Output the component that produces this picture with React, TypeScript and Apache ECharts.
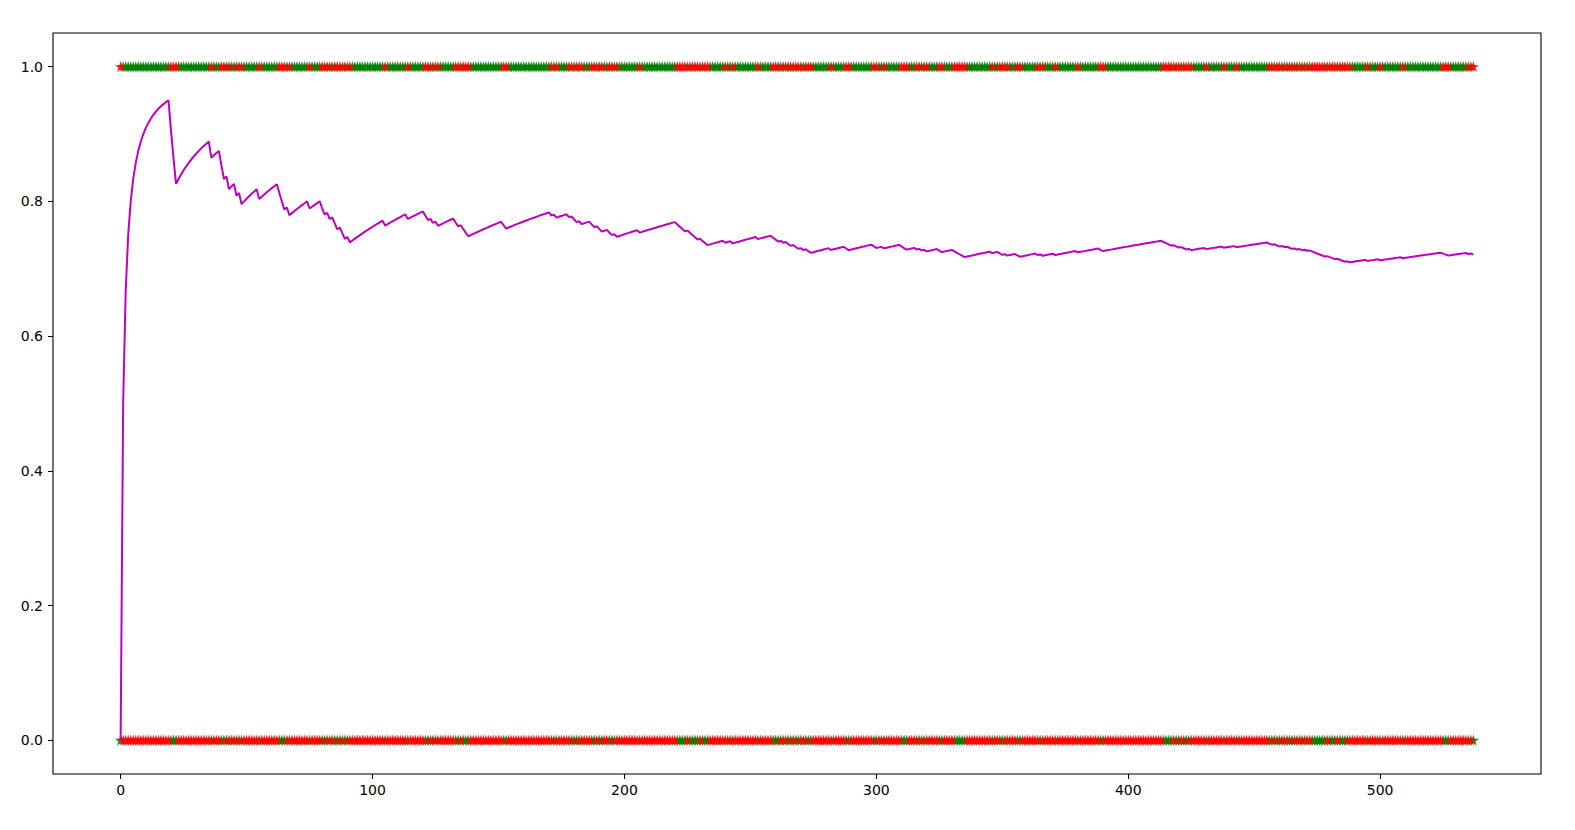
import React, { useEffect, useRef } from "react";
import * as echarts from "echarts";

// number of observations (x = 0 .. 537)
const N_POINTS = 538;

// indices whose value is 0 (read from the red stars on the top row / drops of the line)
const zeroIndices = [
  0, 20, 21, 22, 36, 40, 41, 43, 46, 48, 55, 63, 64, 65, 67, 75,
  80, 81, 83, 85, 86, 88, 89, 91, 105, 114, 121, 122, 124, 126,
  133, 134, 136, 137, 138, 152, 153, 171, 173, 178, 180, 181, 183,
  187, 188, 190, 191, 194, 195, 197, 206,
  221, 222, 223, 224, 226, 227, 228, 229, 231, 232, 233,
  240, 243, 253,
  259, 260, 261, 263, 265, 266, 268, 269, 271, 273, 274,
  282, 288, 289, 299, 300, 303,
  310, 311, 312, 316, 318, 320, 325, 326, 331, 332, 333, 334, 335,
  346, 349, 350, 352, 356, 357, 364, 366, 371, 380, 389, 390,
  414, 415, 416, 417, 419, 420, 422, 423, 425, 431, 438, 443,
  456, 457, 459, 460, 462, 464, 465, 467, 469,
  471, 473, 474, 475, 476, 477, 478, 480, 481, 482, 484, 485, 486,
  488, 495, 500, 509, 525, 526, 527, 535, 537,
];

const xTicks = [0, 100, 200, 300, 400, 500];
const yTicks = [0, 0.2, 0.4, 0.6, 0.8, 1.0];

const STAR =
  "path://M0,-100L22.45,-30.9L95.11,-30.9L36.33,11.8L58.78,80.9L0,38.2L-58.78,80.9L-36.33,11.8L-95.11,-30.9L-22.45,-30.9Z";

export default function App() {
  const ref = useRef<HTMLDivElement>(null);

  useEffect(() => {
    if (!ref.current) return;
    const chart = echarts.init(ref.current, null, { renderer: "svg" });

    const zeroSet = new Set(zeroIndices);
    const xs = Array.from({ length: N_POINTS }, (_, i) => i);
    const actual = xs.map((i) => (zeroSet.has(i) ? 0 : 1));
    const other = actual.map((v) => 1 - v);
    let sum = 0;
    const running = xs.map((i) => {
      sum += actual[i];
      return [i, sum / (i + 1)];
    });

    const pad = (N_POINTS - 1) * 0.05;
    const font = { fontFamily: "DejaVu Sans", fontSize: 14, color: "#000" };

    chart.setOption({
      animation: false,
      backgroundColor: "#fff",
      grid: {
        left: 53,
        right: 34,
        top: 33,
        bottom: 56,
        show: true,
        borderColor: "#000",
        borderWidth: 1.1,
        backgroundColor: "#fff",
      },
      xAxis: {
        type: "value",
        min: -pad,
        max: N_POINTS - 1 + pad,
        axisLine: { show: false, onZero: false },
        splitLine: { show: false },
        axisTick: {
          show: true,
          length: 5,
          lineStyle: { color: "#000", width: 1.1 },
          customValues: xTicks,
        },
        axisLabel: {
          ...font,
          margin: 9,
          customValues: xTicks,
          formatter: (v: number) => String(Math.round(v)),
        },
      },
      yAxis: {
        type: "value",
        min: -0.05,
        max: 1.05,
        axisLine: { show: false, onZero: false },
        splitLine: { show: false },
        axisTick: {
          show: true,
          length: 5,
          lineStyle: { color: "#000", width: 1.1 },
          customValues: yTicks,
        },
        axisLabel: {
          ...font,
          margin: 10,
          customValues: yTicks,
          formatter: (v: number) => v.toFixed(1),
        },
      },
      series: [
        {
          type: "scatter",
          data: xs.map((i) => [i, actual[i]]),
          symbol: STAR,
          symbolSize: [8, 7.6],
          itemStyle: { color: "#008000", borderColor: "#008000", borderWidth: 1.2 },
          silent: true,
        },
        {
          type: "scatter",
          data: xs.map((i) => [i, other[i]]),
          symbol: STAR,
          symbolSize: [8, 7.6],
          itemStyle: { color: "#ff0000", borderColor: "#ff0000", borderWidth: 1.2 },
          silent: true,
        },
        {
          type: "line",
          data: running,
          showSymbol: false,
          symbol: "none",
          lineStyle: { color: "#bf00bf", width: 2 },
          silent: true,
        },
      ],
    });

    return () => chart.dispose();
  }, []);

  return (
    <div
      ref={ref}
      style={{ position: "absolute", left: 0, top: 0, width: 1575, height: 830 }}
    />
  );
}
